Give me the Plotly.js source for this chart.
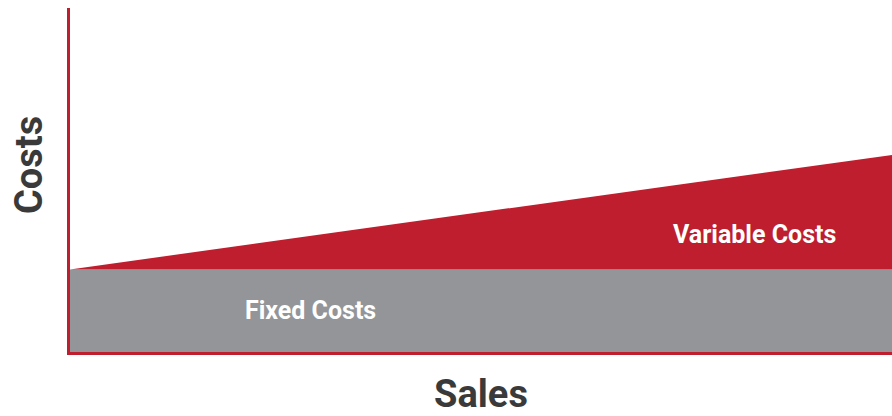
<!DOCTYPE html>
<html>
<head>
<meta charset="utf-8">
<script src="https://cdn.plot.ly/plotly-3.0.1.min.js"></script>
<style>html,body{margin:0;padding:0;background:#fff;}#chart{width:892px;height:416px;}</style>
</head>
<body>
<div id="chart"></div>
<script>
const sales = [0, 100];
const fixedCosts = [24, 24];
const totalCosts = [24, 57.3];
const labels = ["Fixed Costs", "Variable Costs"];
const axisTitles = {x: "Sales", y: "Costs"};

const red = "#BE1E2D";
const gray = "#939598";
const titleColor = "#3a3a3a";

const traces = [
  {x: sales, y: fixedCosts, type: "scatter", mode: "lines", line: {width: 0, color: gray},
   fill: "tozeroy", fillcolor: gray, hoverinfo: "skip", name: labels[0]},
  {x: sales, y: totalCosts, type: "scatter", mode: "lines", line: {width: 0, color: red},
   fill: "tonexty", fillcolor: red, hoverinfo: "skip", name: labels[1]}
];

const layout = {
  width: 892, height: 416,
  margin: {l: 70, r: 0, t: 8, b: 64, pad: 0},
  paper_bgcolor: "#fff", plot_bgcolor: "#fff",
  showlegend: false,
  font: {family: "Roboto, sans-serif"},
  xaxis: {range: [0, 100], showgrid: false, zeroline: false, showticklabels: false, ticks: "",
          showline: true, linecolor: red, linewidth: 3, fixedrange: true,
          title: {text: axisTitles.x, font: {family: "Roboto", size: 38, color: titleColor, weight: "bold"}, standoff: 30}},
  yaxis: {range: [0, 100], showgrid: false, zeroline: false, showticklabels: false, ticks: "",
          showline: true, linecolor: red, linewidth: 3, fixedrange: true},
  annotations: [
    {x: 0, y: 0.5436, xref: "paper", yref: "paper", xanchor: "center", yanchor: "middle", xshift: -41,
     text: axisTitles.y, textangle: -90, showarrow: false,
     font: {family: "Roboto", size: 38, color: titleColor, weight: "bold"}},
    {x: 29.2, y: 12.2, xref: "x", yref: "y", text: labels[0], showarrow: false,
     font: {family: "Roboto", size: 25, color: "#ffffff", weight: "bold"}},
    {x: 83.3, y: 34.3, xref: "x", yref: "y", text: labels[1], showarrow: false,
     font: {family: "Roboto", size: 25, color: "#ffffff", weight: "bold"}}
  ]
};

Plotly.newPlot("chart", traces, layout, {staticPlot: true, displayModeBar: false});
</script>
</body>
</html>
